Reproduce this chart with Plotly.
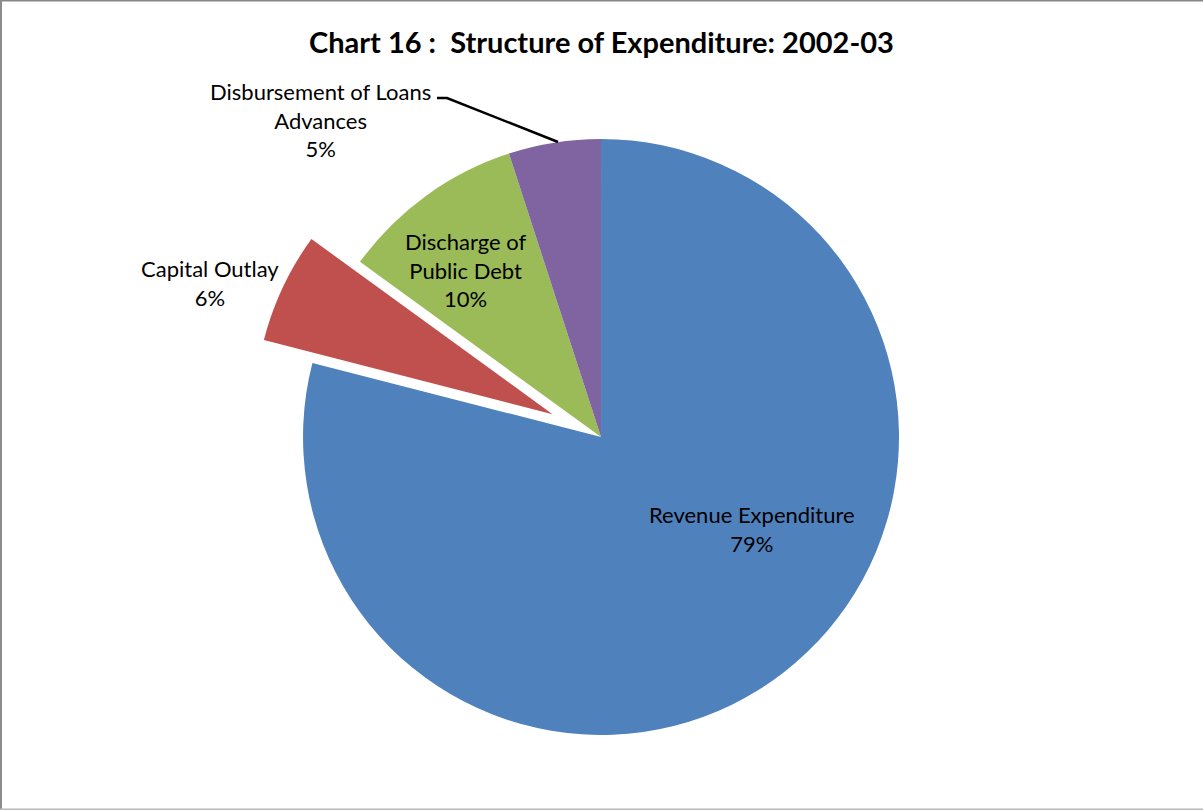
import plotly.graph_objects as go

# Structure of expenditure, 2002-03 (share of total, %)
categories = ["Revenue Expenditure", "Capital Outlay", "Discharge of\nPublic Debt",
              "Disbursement of Loans\nAdvances"]
shares = [79, 6, 10, 5]
colors = ["#4F81BD", "#C0504D", "#9BBB59", "#8064A2"]
pulls = [0, 0.18, 0, 0]

W, H = 1203, 810
FONT = "Lato"


def px(x, y):
    """Pixel position -> paper coordinates."""
    return x / W, 1 - y / H


fig = go.Figure(go.Pie(
    labels=[c.replace("\n", " ") for c in categories],
    values=shares,
    sort=False,
    direction="clockwise",
    rotation=0,
    pull=pulls,
    marker=dict(colors=colors, line=dict(width=0)),
    textinfo="none",
    hoverinfo="label+percent",
    showlegend=False,
    domain=dict(x=[0.2073, 0.7919], y=[0.0264, 0.8946]),
))

# label anchor points (pixel centres of each text block)
label_pos = [(752, 529), (210, 283), (466, 270), (320, 120)]
annotations = []
for cat, val, (lx, ly) in zip(categories, shares, label_pos):
    ax, ay = px(lx, ly)
    annotations.append(dict(
        x=ax, y=ay, xref="paper", yref="paper", showarrow=False,
        text=cat.replace("\n", "<br>") + "<br>" + f"{val}%",
        font=dict(family=FONT, size=22, color="#000000"),
        align="center", xanchor="center", yanchor="middle",
    ))

tx, ty = px(601, 42)
annotations.append(dict(
    x=tx, y=ty, xref="paper", yref="paper", showarrow=False,
    text="<b>Chart 16 :  Structure of Expenditure: 2002-03</b>",
    font=dict(family=FONT, size=29, color="#000000"),
    xanchor="center", yanchor="middle",
))

# leader line for the small purple slice
p0, p1, p2 = px(437, 98), px(447, 98), px(558, 142)
shapes = [dict(
    type="path", xref="paper", yref="paper",
    path=f"M {p0[0]},{p0[1]} L {p1[0]},{p1[1]} L {p2[0]},{p2[1]}",
    line=dict(color="#000000", width=2.5),
)]

# chart-area frame (top, left, bottom)
for x0, y0, x1, y1, c, w in [
    (0, 1, 1, 1, "#868686", 3),
    (0, 0, 0, 1, "#8c8c8c", 4),
    (0, 0, 1, 0, "#b8b8b8", 3),
]:
    shapes.append(dict(type="line", xref="paper", yref="paper",
                       x0=x0, y0=y0, x1=x1, y1=y1, line=dict(color=c, width=w)))

fig.update_layout(
    width=W, height=H,
    margin=dict(l=0, r=0, t=0, b=0),
    paper_bgcolor="#FFFFFF",
    plot_bgcolor="#FFFFFF",
    annotations=annotations,
    shapes=shapes,
)

fig.write_html("out.html", include_plotlyjs=True, full_html=True,
               config=dict(displayModeBar=False))
